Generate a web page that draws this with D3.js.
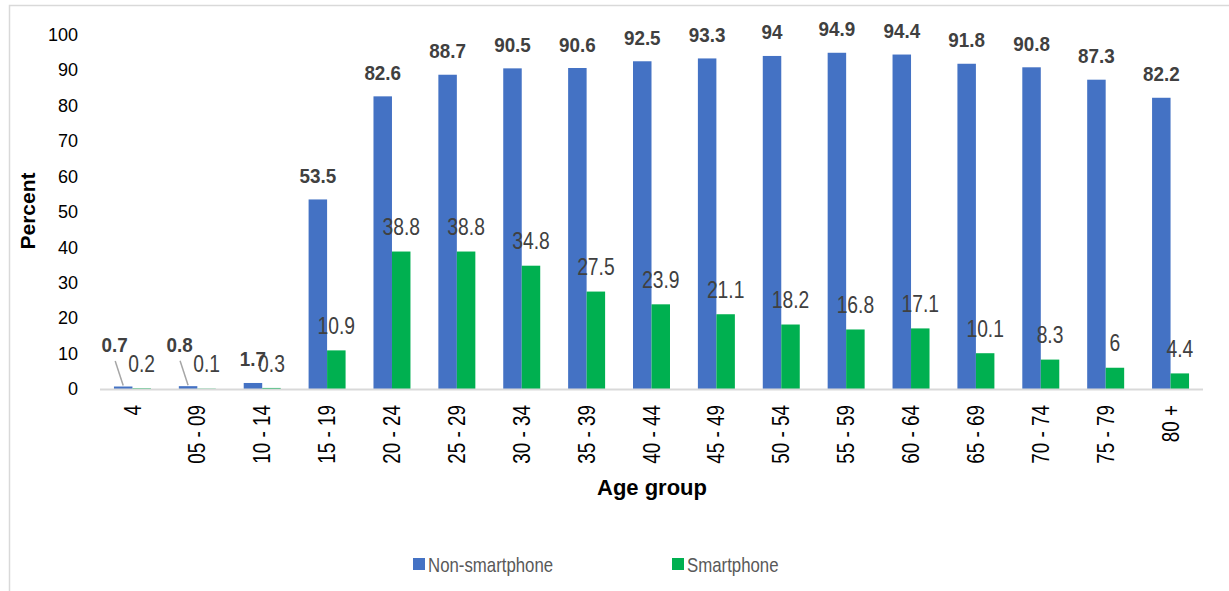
<!DOCTYPE html>
<html>
<head>
<meta charset="utf-8">
<script src="https://cdn.jsdelivr.net/npm/d3@7"></script>
<style>
  html, body { margin: 0; padding: 0; background: #fff; }
  svg { display: block; }
</style>
</head>
<body>
<svg id="chart" width="1229" height="591"></svg>
<script>
const categories = ["4","05 - 09","10 - 14","15 - 19","20 - 24","25 - 29","30 - 34","35 - 39","40 - 44","45 - 49","50 - 54","55 - 59","60 - 64","65 - 69","70 - 74","75 - 79","80 +"];
const nonSmartphone = [0.7,0.8,1.7,53.5,82.6,88.7,90.5,90.6,92.5,93.3,94,94.9,94.4,91.8,90.8,87.3,82.2];
const smartphone = [0.2,0.1,0.3,10.9,38.8,38.8,34.8,27.5,23.9,21.1,18.2,16.8,17.1,10.1,8.3,6,4.4];
const seriesNames = ["Non-smartphone","Smartphone"];
const yTicks = [0,10,20,30,40,50,60,70,80,90,100];

const colors = { "Non-smartphone": "#4472C4", "Smartphone": "#00B050" };
const sans = "'Liberation Sans',Arial,sans-serif";
const NARROW = 0.82; // horizontal condensing to mimic a narrow face

const svg = d3.select("#chart");

// outer border
svg.append("rect").attr("x", 9.5).attr("y", 5.5).attr("width", 1240).attr("height", 600)
  .attr("fill", "none").attr("stroke", "#d9d9d9").attr("stroke-width", 1.5);

const plot = { left: 100, right: 1203, top: 34.7, bottom: 389 };

const x = d3.scaleBand().domain(categories).range([plot.left, plot.right]).padding(0);
const pairW = x.bandwidth() * 0.57;
const xs = d3.scaleBand().domain(seriesNames).range([0, pairW]).padding(0);
const y = d3.scaleLinear().domain([0, 100]).range([plot.bottom, plot.top]);

// Y axis tick labels
const yAxis = d3.axisLeft(y).tickValues(yTicks).tickSize(0).tickPadding(0).tickFormat(d3.format("d"));
const gy = svg.append("g").attr("transform", `translate(78,0)`).call(yAxis);
gy.select(".domain").remove();
gy.selectAll("text").attr("font-family", sans).attr("font-size", 18).attr("fill", "#000");

// bars
const data = categories.map((c, i) => ({ cat: c, i, vals: [
  { key: "Non-smartphone", v: nonSmartphone[i] },
  { key: "Smartphone", v: smartphone[i] }
]}));

const groups = svg.append("g").selectAll("g").data(data).join("g")
  .attr("transform", d => `translate(${x(d.cat) + (x.bandwidth() - pairW) / 2},0)`);

groups.selectAll("rect").data(d => d.vals).join("rect")
  .attr("x", d => xs(d.key))
  .attr("width", xs.bandwidth())
  .attr("y", d => y(d.v))
  .attr("height", d => y(0) - y(d.v))
  .attr("fill", d => colors[d.key]);

// x axis line
svg.append("line").attr("x1", plot.left).attr("x2", plot.right)
  .attr("y1", y(0) + 0.5).attr("y2", y(0) + 0.5)
  .attr("stroke", "#d9d9d9").attr("stroke-width", 2);

// data labels
groups.each(function(d) {
  const g = d3.select(this);
  d.vals.forEach(s => {
    const cx = xs(s.key) + xs.bandwidth() / 2;
    const top = y(s.v);
    if (s.key === "Non-smartphone") {
      let lx = cx, ly = top - 16.5;
      if (s.v < 1) {
        // moved label with leader line
        lx = cx - 8.5; ly = top - 34.5;
        g.append("line").attr("x1", lx + 0.5).attr("y1", ly + 9)
          .attr("x2", cx).attr("y2", top - 1)
          .attr("stroke", "#a6a6a6").attr("stroke-width", 1.5);
      }
      g.append("text").attr("transform", `translate(${lx},${ly}) scale(0.92,1)`)
        .attr("text-anchor", "middle").attr("font-family", sans)
        .attr("font-weight", "bold").attr("font-size", 20.5).attr("fill", "#404040")
        .text(s.v);
    } else {
      g.append("text").attr("transform", `translate(${cx},${top - 16.3}) scale(${NARROW},1)`)
        .attr("text-anchor", "middle").attr("font-family", sans)
        .attr("font-size", 23.5).attr("fill", "#404040")
        .text(s.v);
    }
  });
});

// category labels (rotated)
const xAxis = d3.axisBottom(x).tickSize(0).tickPadding(0);
const gx = svg.append("g").attr("transform", `translate(0,405)`).call(xAxis);
gx.select(".domain").remove();
gx.selectAll("text")
  .attr("transform", `rotate(-90) scale(${NARROW},1)`)
  .attr("x", 0).attr("y", 0).attr("dy", "0.35em")
  .attr("text-anchor", "end")
  .attr("font-family", sans).attr("font-size", 23).attr("fill", "#000");

// axis titles
svg.append("text").attr("transform", "translate(35,211) rotate(-90)")
  .attr("text-anchor", "middle").attr("font-family", sans).attr("font-weight", "bold")
  .attr("font-size", 21).attr("fill", "#000").text("Percent");

svg.append("text").attr("x", 652).attr("y", 495)
  .attr("text-anchor", "middle").attr("font-family", sans).attr("font-weight", "bold")
  .attr("font-size", 22).attr("fill", "#000").text("Age group");

// legend
const legendX = [413, 672];
const lg = svg.append("g").selectAll("g").data(seriesNames).join("g")
  .attr("transform", (d, i) => `translate(${legendX[i]},558)`);
lg.append("rect").attr("width", 12).attr("height", 12).attr("fill", d => colors[d]);
lg.append("text").attr("transform", `translate(15,13.5) scale(${NARROW},1)`)
  .attr("font-family", sans)
  .attr("font-size", 20.5).attr("fill", "#595959").text(d => d);
</script>
</body>
</html>
